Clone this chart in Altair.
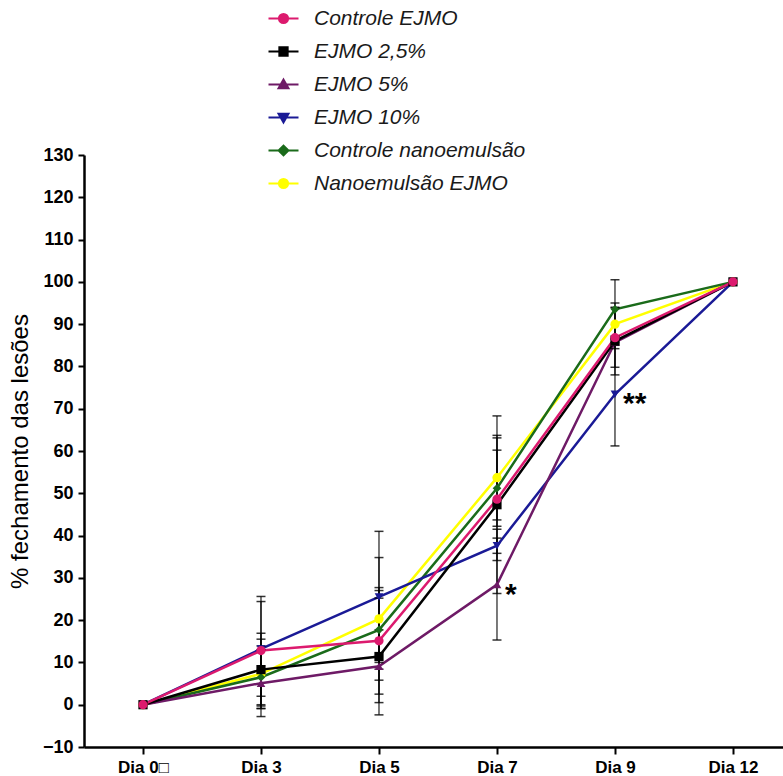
import altair as alt
import pandas as pd

# ---------------- data ----------------
days = ["Dia 0\u25a1", "Dia 3", "Dia 5", "Dia 7", "Dia 9", "Dia 12"]
series = ["Controle EJMO", "EJMO 2,5%", "EJMO 5%", "EJMO 10%",
          "Controle nanoemulsão", "Nanoemulsão EJMO"]
colors = ["#DC1A6E", "#000000", "#6E1A66", "#1A1A96", "#1A6B1A", "#FFFF00"]
shapes = ["circle", "square", "triangle-up", "triangle-down", "diamond", "circle"]

controle_ejmo = [0, 12.8, 15.1, 48.6, 86.8, 100]
ejmo_25 = [0, 8.3, 11.4, 47.3, 86.0, 100]
ejmo_5 = [0, 5.1, 9.1, 28.4, 85.7, 100]
ejmo_10 = [0, 13.2, 25.5, 37.6, 73.4, 100]
controle_nano = [0, 6.5, 17.7, 51.2, 93.5, 100]
nano_ejmo = [0, 7.3, 20.3, 53.7, 90.0, 100]

err_controle_ejmo = [0, 12.8, 12.6, 14.5, 7.0, 0]
err_ejmo_25 = [0, 8.6, 13.8, 21.0, 8.0, 0]
err_ejmo_5 = [0, 7.9, 8.6, 13.1, 1.5, 0]
err_ejmo_10 = [0, 11.2, 15.5, 1.8, 12.2, 0]
err_controle_nano = [0, 7.4, 9.3, 9.0, 7.0, 0]
err_nano_ejmo = [0, 8.2, 14.5, 10.0, 5.0, 0]

annot_series = ["EJMO 5%", "EJMO 10%"]
annot_day = ["Dia 7", "Dia 9"]
annot_text = ["*", "**"]

# ---------------- build tables ----------------
values = [controle_ejmo, ejmo_25, ejmo_5, ejmo_10, controle_nano, nano_ejmo]
errors = [err_controle_ejmo, err_ejmo_25, err_ejmo_5, err_ejmo_10,
          err_controle_nano, err_nano_ejmo]

rows = []
for s, vals, errs in zip(series, values, errors):
    for j, (v, e) in enumerate(zip(vals, errs)):
        rows.append({"series": s, "idx": j, "day": days[j], "value": v,
                     "err": e, "lo": v - e, "hi": v + e})
df = pd.DataFrame(rows)

ann_rows = []
for s, d, t in zip(annot_series, annot_day, annot_text):
    j = days.index(d)
    v = values[series.index(s)][j]
    ann_rows.append({"idx": j, "value": v, "text": t})
ann = pd.DataFrame(ann_rows)

FONT = "Liberation Sans"
label_expr = "[" + ",".join("'" + d + "'" for d in days) + "][datum.value]"

x_scale = alt.Scale(domain=[-0.5, 5.424], nice=False, zero=False)
y_scale = alt.Scale(domain=[-10, 130], nice=False, zero=False)
x_axis = alt.Axis(values=list(range(len(days))), labelExpr=label_expr, title=None,
                  grid=False, labelFont=FONT, labelFontSize=17, labelFontWeight="bold",
                  labelColor="#000", labelPadding=5, tickSize=7, tickWidth=2,
                  tickColor="#000", domainColor="#000", domainWidth=2.5)
y_axis = alt.Axis(values=list(range(-10, 131, 10)), title="% fechamento das lesões",
                  grid=False, labelFont=FONT, labelFontSize=18, labelFontWeight="bold",
                  labelColor="#000", labelPadding=5, tickSize=6, tickWidth=2,
                  tickColor="#000", domainColor="#000", domainWidth=2.5,
                  titleFont=FONT, titleFontSize=24, titleFontWeight="normal",
                  titleColor="#000", titlePadding=10)

X = alt.X("idx:Q", scale=x_scale, axis=x_axis)


def Y(field):
    return alt.Y(field, scale=y_scale, axis=y_axis)


layers = []

# lines, drawn so that the first series ends on top
for s, c in reversed(list(zip(series, colors))):
    layers.append(
        alt.Chart(df).transform_filter(alt.datum.series == s)
        .mark_line(color=c, strokeWidth=2.5)
        .encode(x=X, y=Y("value:Q"))
    )

# error bars
err_df = df[df["err"] > 0]
layers.append(
    alt.Chart(err_df).mark_rule(color="#000", strokeWidth=1.5, opacity=0.7)
    .encode(x=X, y=Y("lo:Q"), y2="hi:Q")
)
layers.append(
    alt.Chart(err_df).transform_fold(["lo", "hi"], as_=["cap", "capv"])
    .mark_tick(orient="horizontal", color="#000", size=9, thickness=1.5, opacity=0.8)
    .encode(x=X, y=Y("capv:Q"))
)

# markers
for s, c, sh in reversed(list(zip(series, colors, shapes))):
    size = 85 if sh in ("circle", "square") else 75
    layers.append(
        alt.Chart(df).transform_filter(alt.datum.series == s)
        .mark_point(shape=sh, filled=True, color=c, size=size, opacity=1)
        .encode(x=X, y=Y("value:Q"))
    )

# significance marks
layers.append(
    alt.Chart(ann).mark_text(font=FONT, fontSize=30, fontWeight="bold", color="#000",
                             align="left", baseline="alphabetic", dx=8, dy=19)
    .encode(x=X, y=Y("value:Q"), text="text:N")
)

# legend (line + marker symbols)
leg_paths = [
    "M-1,0H1M-0.3,0A0.3,0.3,0,1,0,0.3,0A0.3,0.3,0,1,0,-0.3,0Z",
    "M-1,0H1M-0.27,-0.27H0.27V0.27H-0.27Z",
    "M-1,0H1M0,-0.32L0.32,0.24H-0.32Z",
    "M-1,0H1M0,0.32L0.32,-0.24H-0.32Z",
    "M-1,0H1M0,-0.32L0.32,0L0,0.32L-0.32,0Z",
    "M-1,0H1M-0.3,0A0.3,0.3,0,1,0,0.3,0A0.3,0.3,0,1,0,-0.3,0Z",
]


def leg():
    return alt.Legend(title=None, orient="none", legendX=183, legendY=-153,
                      symbolSize=900, symbolStrokeWidth=2.2, symbolOpacity=1,
                      labelFont=FONT, labelFontStyle="italic", labelFontSize=21,
                      labelColor="#1a1a1a", labelOffset=14, rowPadding=6,
                      padding=0, labelLimit=400)


layers.append(
    alt.Chart(df).transform_filter("false").mark_point(filled=True, strokeWidth=2)
    .encode(
        x=X, y=Y("value:Q"),
        fill=alt.Fill("series:N", scale=alt.Scale(domain=series, range=colors), legend=leg()),
        stroke=alt.Stroke("series:N", scale=alt.Scale(domain=series, range=colors), legend=leg()),
        shape=alt.Shape("series:N", scale=alt.Scale(domain=series, range=leg_paths), legend=leg()),
    )
)

chart = (
    alt.layer(*layers)
    .properties(
        width=699, height=592,
        autosize=alt.AutoSizeParams(type="none"),
        padding={"left": 84, "top": 155, "right": 0, "bottom": 29},
        background="white",
    )
    .configure_view(stroke=None)
)

chart.save("out.html", embed_options={"renderer": "svg", "actions": False})
